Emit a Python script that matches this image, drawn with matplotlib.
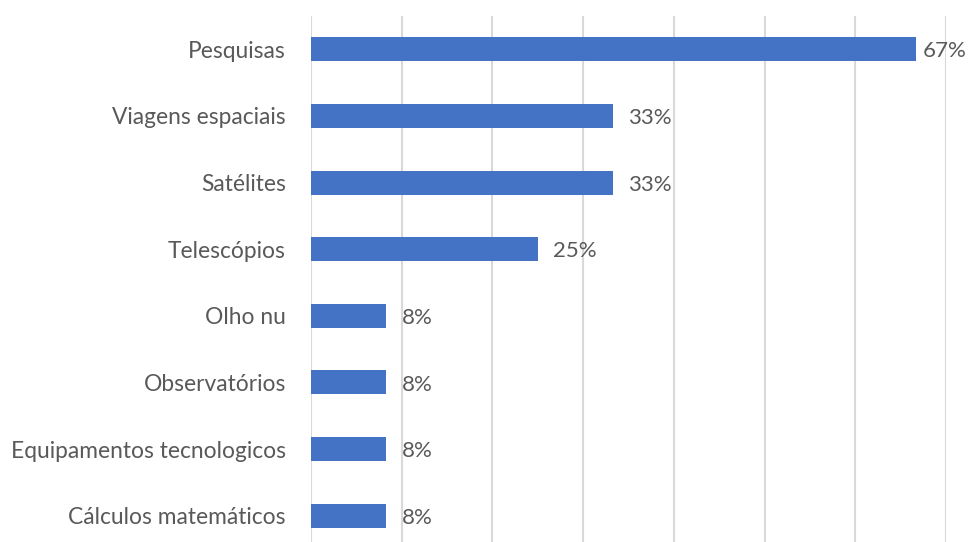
import matplotlib.pyplot as plt

# Categories from top to bottom and share of answers (%)
categories = [
    "Pesquisas",
    "Viagens espaciais",
    "Satélites",
    "Telescópios",
    "Olho nu",
    "Observatórios",
    "Equipamentos tecnologicos",
    "Cálculos matemáticos",
]
values = [66.7, 33.3, 33.3, 25.0, 8.3, 8.3, 8.3, 8.3]
grid_ticks = [0, 10, 20, 30, 40, 50, 60, 70]

bar_color = "#4472C4"
text_color = "#595959"
grid_color = "#D9D9D9"

plt.rcParams["font.family"] = ["Lato", "DejaVu Sans"]

fig = plt.figure(figsize=(9.7, 5.42), dpi=100)
# plot area runs slightly past the bottom edge of the canvas
ax = fig.add_axes([311 / 970, 1 - 549 / 542, 635 / 970, 533 / 542])

pos = list(range(len(categories)))
ax.barh(pos, values, height=0.36, color=bar_color, zorder=3)
ax.set_ylim(len(categories) - 0.5, -0.5)
ax.set_xlim(0, 70)

ax.set_xticks(grid_ticks)
ax.set_xticklabels([])
ax.tick_params(axis="x", length=0)
ax.xaxis.grid(True, color=grid_color, linewidth=1.5, zorder=0)

ax.set_yticks(pos)
ax.set_yticklabels(categories, fontsize=16.4, color=text_color)
ax.tick_params(axis="y", length=0, pad=18)

for spine in ax.spines.values():
    spine.set_visible(False)

labels = []
for p, v in zip(pos, values):
    t = ax.annotate(f"{v:.0f}%", (v, p), xytext=(11, -1.5), textcoords="offset points",
                    va="center", ha="left", fontsize=16, color=text_color)
    labels.append(t)

# pull labels back inside the canvas if they run off the right edge
fig.canvas.draw()
renderer = fig.canvas.get_renderer()
fig_w = fig.bbox.width
for t in labels:
    bb = t.get_window_extent(renderer)
    overflow = bb.x1 - (fig_w - 3)
    if overflow > 0:
        x, y = t.get_position()
        t.set_position((x - overflow * 72 / fig.dpi, y))

fig.savefig("out.png", dpi=100)
